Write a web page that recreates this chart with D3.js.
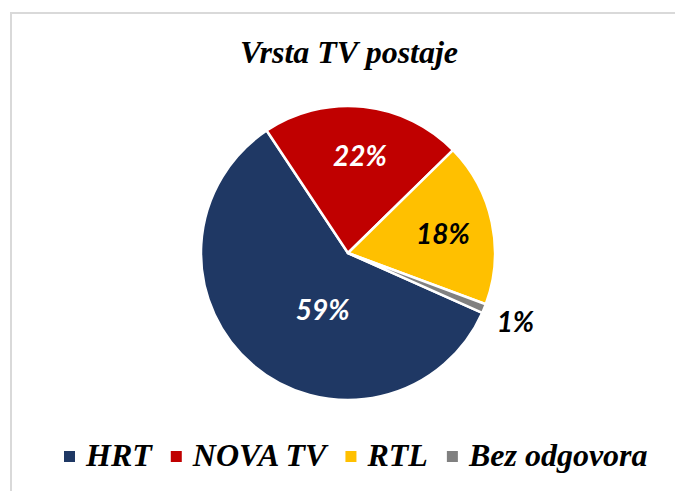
<!DOCTYPE html>
<html>
<head>
<meta charset="utf-8">
<script src="https://cdn.jsdelivr.net/npm/d3@7"></script>
<style>
  html, body { margin: 0; padding: 0; background: #fff; }
  svg { display: block; }
</style>
</head>
<body>
<svg id="chart" width="675" height="491"></svg>
<script>
// data
const categories = ["HRT", "NOVA TV", "RTL", "Bez odgovora"];
const values = [59, 22, 18, 1];
const labels = ["59%", "22%", "18%", "1%"];
const colors = ["#1F3864", "#C00000", "#FFC000", "#808080"];
const labelColors = ["#fff", "#fff", "#000", "#000"];

const width = 675, height = 491;
const cx = 348, cy = 253, radius = 147;

const svg = d3.select("#chart");

// frame (only top / left edges visible in the crop)
svg.append("path")
  .attr("d", `M11,${height} L11,13 L${width},13`)
  .attr("fill", "none")
  .attr("stroke", "#d9d9d9")
  .attr("stroke-width", 2);

svg.append("text")
  .attr("x", 349)
  .attr("y", 63)
  .attr("text-anchor", "middle")
  .style("font-family", "'Liberation Serif', 'Times New Roman', serif")
  .style("font-weight", "bold")
  .style("font-style", "italic")
  .style("font-size", "32px")
  .text("Vrsta TV postaje");

const deg = Math.PI / 180;
const pie = d3.pie()
  .sort(null)
  .value(d => d)
  .startAngle(114 * deg)
  .endAngle(474 * deg);

const arcs = pie(values);
const arc = d3.arc().innerRadius(0).outerRadius(radius);

const g = svg.append("g").attr("transform", `translate(${cx},${cy})`);

g.selectAll("path.slice")
  .data(arcs)
  .enter()
  .append("path")
  .attr("class", "slice")
  .attr("d", arc)
  .attr("fill", (d, i) => colors[i])
  .attr("stroke", "#fff")
  .attr("stroke-width", 2.5)
  .attr("stroke-linejoin", "round");

// label placement (radius fraction, angle shift in degrees)
const labelPlace = [
  { r: 0.42, shift: -16 },
  { r: 0.67, shift: 1 },
  { r: 0.66, shift: 0 },
  { r: 1.23, shift: 0 }
];

g.selectAll("text.lbl")
  .data(arcs)
  .enter()
  .append("text")
  .attr("class", "lbl")
  .attr("transform", (d, i) => {
    const p = labelPlace[i];
    const a = (d.startAngle + d.endAngle) / 2 + p.shift * deg;
    const rr = radius * p.r;
    return `translate(${rr * Math.sin(a)},${-rr * Math.cos(a)})`;
  })
  .attr("text-anchor", "middle")
  .attr("dominant-baseline", "central")
  .attr("fill", (d, i) => labelColors[i])
  .style("font-family", "Lato, 'Open Sans', sans-serif")
  .style("font-weight", "bold")
  .style("font-style", "italic")
  .style("font-size", "28px")
  .text((d, i) => labels[i]);

// legend
const legend = svg.append("g").attr("transform", "translate(64,466)");
let x = 0;
categories.forEach((c, i) => {
  legend.append("rect")
    .attr("x", x)
    .attr("y", -15)
    .attr("width", 11)
    .attr("height", 11)
    .attr("fill", colors[i]);
  const t = legend.append("text")
    .attr("x", x + 22)
    .attr("y", 0)
    .style("font-family", "'Liberation Serif', 'Times New Roman', serif")
    .style("font-weight", "bold")
    .style("font-style", "italic")
    .style("font-size", "32px")
    .text(c);
  x += 22 + t.node().getComputedTextLength() + 19;
});
</script>
</body>
</html>
